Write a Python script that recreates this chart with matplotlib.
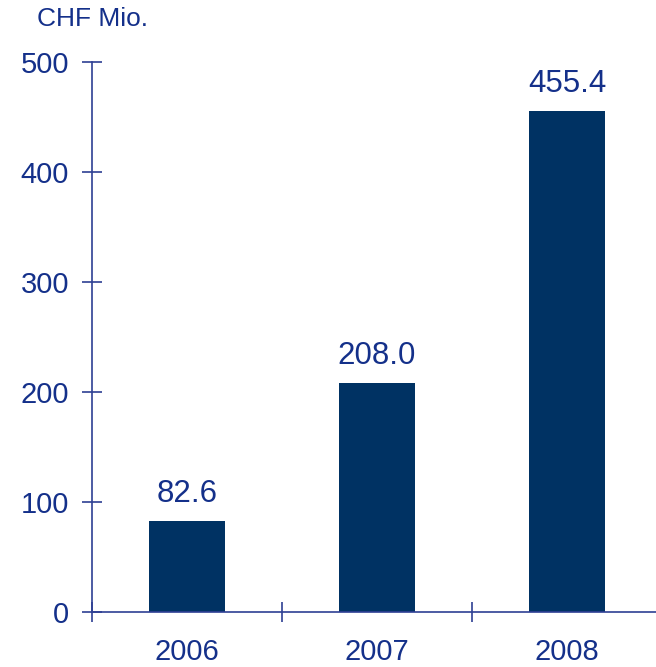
import matplotlib.pyplot as plt

years = ['2006', '2007', '2008']
values = [82.6, 208.0, 455.4]
yticks = [0, 100, 200, 300, 400, 500]

bar_color = '#003263'
text_color = '#14308a'
axis_color = '#2e3f94'

plt.rcParams['font.family'] = ['Liberation Sans', 'DejaVu Sans']

fig = plt.figure(figsize=(6.56, 6.67), dpi=100)
# axes spans x 92..662 px, y 62..612 px
ax = fig.add_axes([92 / 656, (667 - 612) / 667, 570 / 656, 550 / 667])

x = range(len(years))
ax.bar(x, values, width=0.4, color=bar_color)
for xi, v in zip(x, values):
    ax.annotate(f'{v:.1f}', (xi, v), xytext=(0, 13.5), textcoords='offset points',
                ha='center', va='baseline', fontsize=22.5, color=text_color)

ax.set_xlim(-0.5, 2.5)
ax.set_ylim(0, 500)
ax.set_yticks(yticks)
ax.set_xticks([-0.5, 0.5, 1.5, 2.5])
ax.set_xticklabels([])
ax.set_xticks(list(x), minor=True)
ax.set_xticklabels(years, minor=True)

for s in ['top', 'right']:
    ax.spines[s].set_visible(False)
for s in ['left', 'bottom']:
    ax.spines[s].set_color(axis_color)
    ax.spines[s].set_linewidth(1.2)

ax.tick_params(axis='y', direction='inout', length=14, width=1.2, color=axis_color,
               labelcolor=text_color, labelsize=21, pad=9.5)
ax.tick_params(axis='x', which='major', direction='inout', length=14, width=1.2,
               color=axis_color)
ax.tick_params(axis='x', which='minor', length=0, labelcolor=text_color,
               labelsize=21, pad=19)

fig.text(37 / 656, 1 - 7 / 667, 'CHF Mio.', ha='left', va='top', fontsize=19,
         color=text_color)

fig.savefig('out.png', dpi=100)
